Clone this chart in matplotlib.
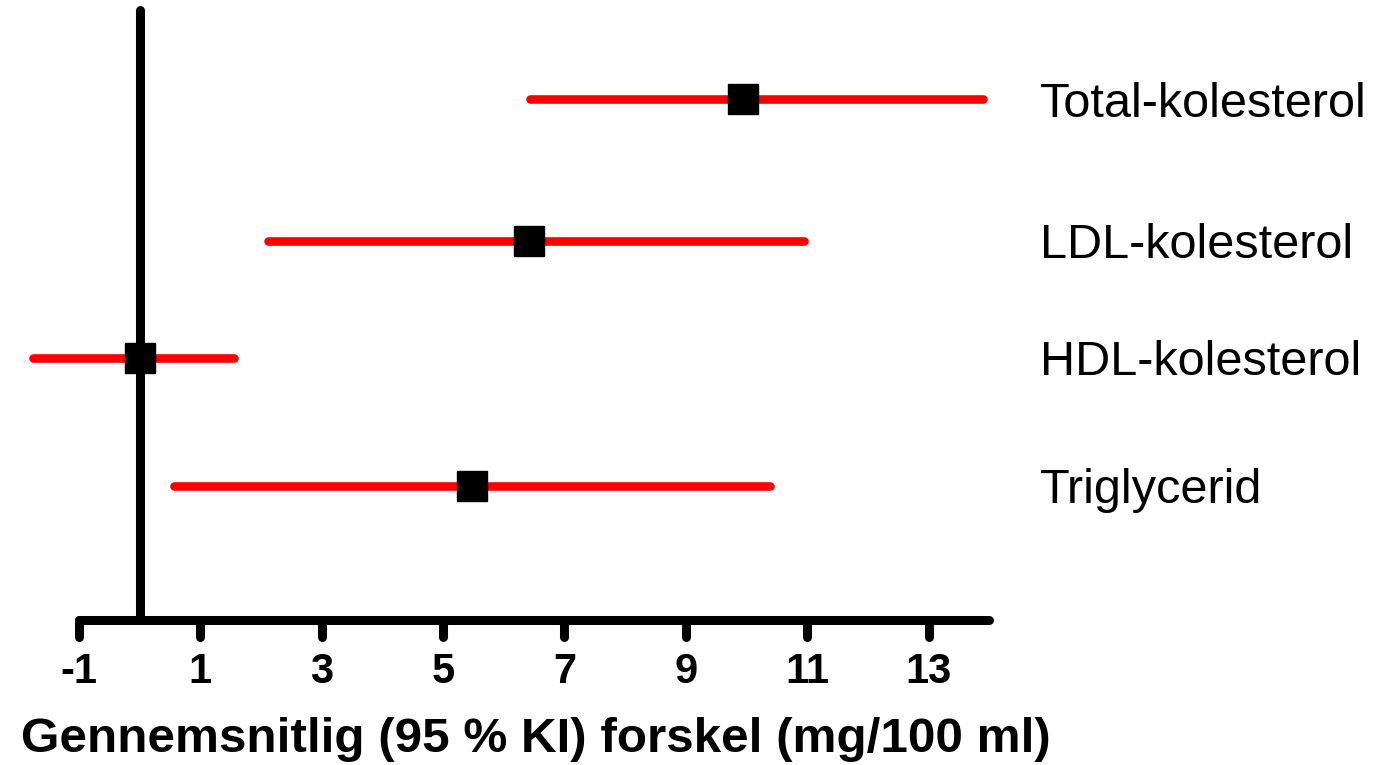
import numpy as np
import matplotlib.pyplot as plt
from matplotlib.markers import MarkerStyle
import matplotlib.lines as mlines

# data
labels = ['Total-kolesterol', 'LDL-kolesterol', 'HDL-kolesterol', 'Triglycerid']
means = [9.95, 6.42, 0.0, 5.47]
ci_low = [6.43, 2.11, -1.76, 0.56]
ci_high = [13.89, 10.94, 1.55, 10.38]
rows = [4.27, 3.11, 2.15, 1.10]
xticks = [-1, 1, 3, 5, 7, 9, 11, 13]

plt.rcParams['font.family'] = ['Liberation Sans', 'DejaVu Sans']

fig = plt.figure(figsize=(13.78, 7.65), dpi=100)
ax = fig.add_axes([0.01314, 0.1895, 0.7048, 0.7974])

# confidence intervals and means
for lo, hi, m, y in zip(ci_low, ci_high, means, rows):
    ax.plot([lo, hi], [y, y], color='#ff0000', lw=6.2, solid_capstyle='round',
            clip_on=False, zorder=2)
    ax.plot(m, y, marker='s', color='black', markersize=21.6, clip_on=False,
            zorder=3)

for lab, y in zip(labels, rows):
    ax.text(1.052, y, lab, transform=ax.get_yaxis_transform(), fontsize=35,
            va='center_baseline', ha='left')

ax.set_xlim(-2, 14)
ax.set_ylim(0, 5)

for s in ['top', 'right']:
    ax.spines[s].set_visible(False)
ax.spines['left'].set_position(('data', 0))
ax.spines['left'].set_linewidth(6.5)
ax.spines['left'].set_capstyle('round')
ax.spines['left'].set_zorder(1)
ax.spines['bottom'].set_bounds(-1, 14)
ax.spines['bottom'].set_linewidth(6.5)
ax.spines['bottom'].set_capstyle('round')

ax.set_yticks([])
ax.set_xticks(xticks)
ax.set_xticklabels([str(t) for t in xticks], fontsize=30, fontweight='bold')
ax.tick_params(axis='x', direction='out', length=12, width=6.5, pad=11)
for tick in ax.xaxis.get_major_ticks():
    tick.tick1line.set_marker(MarkerStyle(mlines.TICKDOWN, capstyle='round'))

fig.text(536 / 1378, (765 - 740) / 765, 'Gennemsnitlig (95 % KI) forskel (mg/100 ml)',
         fontsize=35.6, fontweight='bold', ha='center', va='center')

fig.savefig('out.png', dpi=100)
